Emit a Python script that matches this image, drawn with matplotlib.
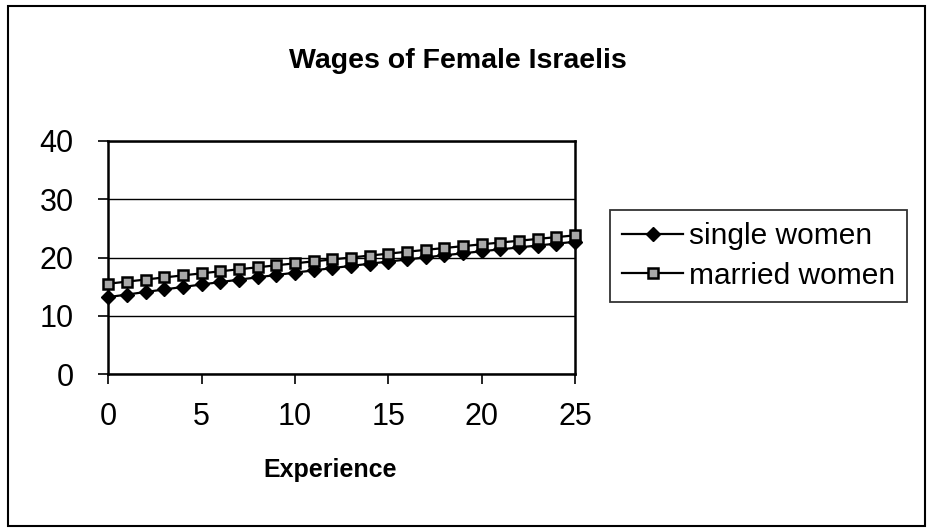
import matplotlib
matplotlib.use("Agg")
import matplotlib.pyplot as plt
from matplotlib.patches import Rectangle

plt.rcParams['font.family'] = ['Liberation Sans', 'DejaVu Sans']

experience = list(range(0, 26))
single_women = [13.2, 13.64, 14.08, 14.52, 14.94, 15.37, 15.78, 16.20, 16.60, 17.00,
                17.40, 17.79, 18.18, 18.56, 18.93, 19.30, 19.66, 20.02, 20.38, 20.72,
                21.07, 21.40, 21.73, 22.06, 22.38, 22.70]
married_women = [15.5, 15.86, 16.22, 16.58, 16.93, 17.28, 17.63, 17.98, 18.32, 18.66,
                 19.00, 19.34, 19.67, 20.00, 20.33, 20.66, 20.99, 21.31, 21.63, 21.95,
                 22.26, 22.57, 22.88, 23.19, 23.50, 23.80]
series_labels = ["single women", "married women"]
title = "Wages of Female Israelis"
xlabel = "Experience"
xticks = [0, 5, 10, 15, 20, 25]
yticks = [0, 10, 20, 30, 40]

fig = plt.figure(figsize=(9.28, 5.28), dpi=100)
fig.patch.set_facecolor('white')
ax = fig.add_axes([108.3 / 928, 1 - 374 / 528, (575 - 108.3) / 928, (374 - 141) / 528])

ax.set_xlim(0, 25)
ax.set_ylim(0, 40)
ax.set_yticks(yticks)
ax.set_xticks(xticks)
ax.yaxis.grid(True, color='black', linewidth=1.0)
ax.set_axisbelow(True)

ax.plot(experience, single_women, color='black', linewidth=1.6, marker='D',
        markersize=6.8, markerfacecolor='black', markeredgecolor='black',
        label=series_labels[0], clip_on=False, zorder=3)
ax.plot(experience, married_women, color='black', linewidth=1.6, marker='s',
        markersize=7.2, markerfacecolor='#a8a8a8', markeredgecolor='black',
        markeredgewidth=1.8, label=series_labels[1], clip_on=False, zorder=4)

for s in ax.spines.values():
    s.set_linewidth(1.8)
    s.set_color('black')

ax.tick_params(axis='both', direction='out', length=7, width=1.2, labelsize=22, colors='black')
ax.tick_params(axis='x', pad=13)
ax.tick_params(axis='y', pad=18)

fig.text(330 / 928, 1 - 470 / 528, xlabel, ha='center', va='center',
         fontsize=18, fontweight='bold')
fig.text(458 / 928, 1 - 61 / 528, title, ha='center', va='center',
         fontsize=20.5, fontweight='bold')

leg = fig.legend(loc='center left', bbox_to_anchor=(610 / 928, 1 - 256 / 528),
                 fontsize=21.5, frameon=True, fancybox=False, edgecolor='black',
                 handlelength=2.05, handletextpad=0.2, borderpad=0.4,
                 labelspacing=0.38, borderaxespad=0)
leg.get_frame().set_linewidth(1.3)

fig.add_artist(Rectangle((8 / 928, 2 / 528), 917 / 928, 520 / 528,
                         transform=fig.transFigure, fill=False,
                         edgecolor='black', linewidth=1.5))

fig.savefig("out.png", dpi=100, facecolor='white')
